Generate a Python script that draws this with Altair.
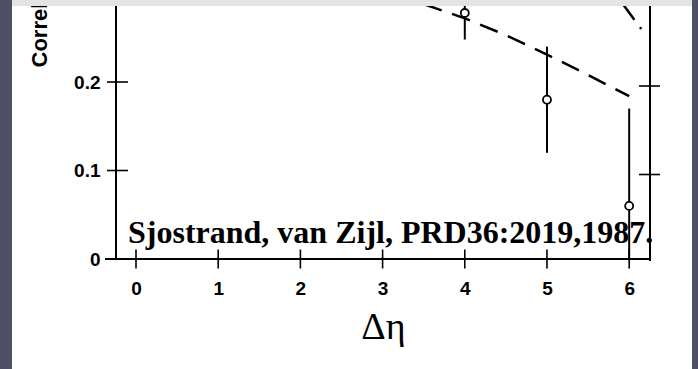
import altair as alt
import pandas as pd

# Measured correlation points with their error bar ends
eta_pts = [4, 5, 6]
corr_pts = [0.278, 0.18, 0.06]
err_lo = [0.248, 0.12, -0.016]
err_hi = [0.308, 0.24, 0.17]

# Model prediction (dashed curve)
curve_eta = [3.5, 4.0, 4.5, 5.0, 5.5, 6.0]
curve_val = [0.288, 0.272, 0.253, 0.231, 0.208, 0.184]

# Steep second model curve entering at the top right
steep_eta = [5.90, 6.15]
steep_val = [0.291, 0.2595]

x_ticks = [0, 1, 2, 3, 4, 5, 6]
y_ticks = [0, 0.1, 0.2]
right_ticks = [0.1, 0.2]

NOTE = "Sjostrand, van Zijl, PRD36:2019,1987."

W, H = 534, 253
X_DOMAIN = [-0.2433, 6.2533]
Y_DOMAIN = [0, 0.2859]

xs = alt.Scale(domain=X_DOMAIN, nice=False, zero=False)
ys = alt.Scale(domain=Y_DOMAIN, nice=False, zero=False)

x_axis = alt.Axis(
    values=x_ticks, format="d", domain=False, ticks=False, tickSize=0, grid=False,
    labelFont="Liberation Sans", labelFontSize=19, labelFontWeight="bold",
    labelColor="black", labelPadding=20,
    title="Δη", titleFont="Liberation Serif", titleFontSize=38,
    titleFontWeight="normal", titleColor="black",
    titleX=267, titleY=79, titleBaseline="alphabetic", titleAlign="center",
)
y_axis = alt.Axis(
    values=y_ticks, domain=False, ticks=False, tickSize=0, grid=False,
    labelExpr="datum.value == 0 ? '0' : format(datum.value, '.1f')",
    labelFont="Liberation Sans", labelFontSize=19, labelFontWeight="bold",
    labelColor="black", labelPadding=16,
    title="Correl", titleFont="Liberation Sans", titleFontSize=22,
    titleFontWeight="bold", titleColor="black", titleAngle=270,
    titleX=-77, titleY=61, titleAlign="left", titleBaseline="middle",
)


def X(field):
    return alt.X(field, type="quantitative", scale=xs, axis=x_axis)


def Y(field):
    return alt.Y(field, type="quantitative", scale=ys, axis=y_axis)


points = pd.DataFrame({"eta": eta_pts, "corr": corr_pts, "lo": err_lo, "hi": err_hi})
curve = pd.DataFrame({"eta": curve_eta, "corr": curve_val})
steep = pd.DataFrame({"eta": steep_eta, "corr": steep_val})
xt = pd.DataFrame({"tick": x_ticks})
yt = pd.DataFrame({"v": y_ticks})
rt = pd.DataFrame({"v": right_ticks})
one = pd.DataFrame({"note": [NOTE]})

ink = "black"

note = alt.Chart(one).mark_text(
    font="Liberation Serif", fontSize=32, fontWeight="bold",
    align="left", baseline="alphabetic", color=ink,
).encode(text="note:N", x=alt.value(12), y=alt.value(237))

# frame lines
left_line = alt.Chart(one).mark_rule(color=ink, strokeWidth=2).encode(
    x=alt.value(0), y=alt.value(-6), y2=alt.value(H))
bottom_line = alt.Chart(one).mark_rule(color=ink, strokeWidth=2).encode(
    x=alt.value(-11), x2=alt.value(W), y=alt.value(H))
right_line = alt.Chart(one).mark_rule(color=ink, strokeWidth=2).encode(
    x=alt.value(W), y=alt.value(-6), y2=alt.value(H + 2))

x_tick_marks = alt.Chart(xt).mark_rule(color=ink, strokeWidth=1.6).encode(
    x=X("tick"), y=alt.value(H - 9.5), y2=alt.value(H + 9.5))
y_tick_marks = alt.Chart(yt).mark_rule(color=ink, strokeWidth=1.6).encode(
    y=Y("v"), x=alt.value(-9), x2=alt.value(12))
r_tick_marks = alt.Chart(rt).mark_rule(color=ink, strokeWidth=1.6, yOffset=4).encode(
    y=Y("v"), x=alt.value(W - 11), x2=alt.value(W + 10))

bars = alt.Chart(points).mark_rule(color=ink, strokeWidth=2, clip=True).encode(
    x=X("eta"), y=Y("lo"), y2="hi")

model = alt.Chart(curve).mark_line(
    color=ink, strokeWidth=2.5, strokeDash=[19, 11], clip=True
).encode(x=X("eta"), y=Y("corr"))

model2 = alt.Chart(steep).mark_line(
    color=ink, strokeWidth=2.5, strokeDash=[22.6, 9.5, 2, 100], clip=True
).encode(x=X("eta"), y=Y("corr"))

dots = alt.Chart(points).mark_point(
    shape="circle", size=64, fill="white", fillOpacity=1, stroke=ink,
    strokeWidth=1.8, opacity=1,
).encode(x=X("eta"), y=Y("corr"))

# surrounding frame of the page
band = "#4f4f66"
left_band = alt.Chart(one).mark_rect(color=band).encode(
    x=alt.value(-116), x2=alt.value(-104), y=alt.value(-6), y2=alt.value(H + 110))
right_band = alt.Chart(one).mark_rect(color=band).encode(
    x=alt.value(576), x2=alt.value(582), y=alt.value(-6), y2=alt.value(H + 110))
top_strip = alt.Chart(one).mark_rect(color="#e4e4e4").encode(
    x=alt.value(-104), x2=alt.value(576), y=alt.value(-6), y2=alt.value(0))

chart = alt.layer(
    note, left_line, bottom_line, right_line,
    x_tick_marks, y_tick_marks, r_tick_marks,
    bars, model, model2, dots,
    left_band, right_band, top_strip,
).properties(
    width=W, height=H,
    padding={"left": 116, "top": 6, "right": 48, "bottom": 110},
    autosize=alt.AutoSizeParams(type="none"),
    background="white",
).configure_view(stroke=None)

chart.save("out.html", embed_options={"renderer": "svg", "actions": False})
